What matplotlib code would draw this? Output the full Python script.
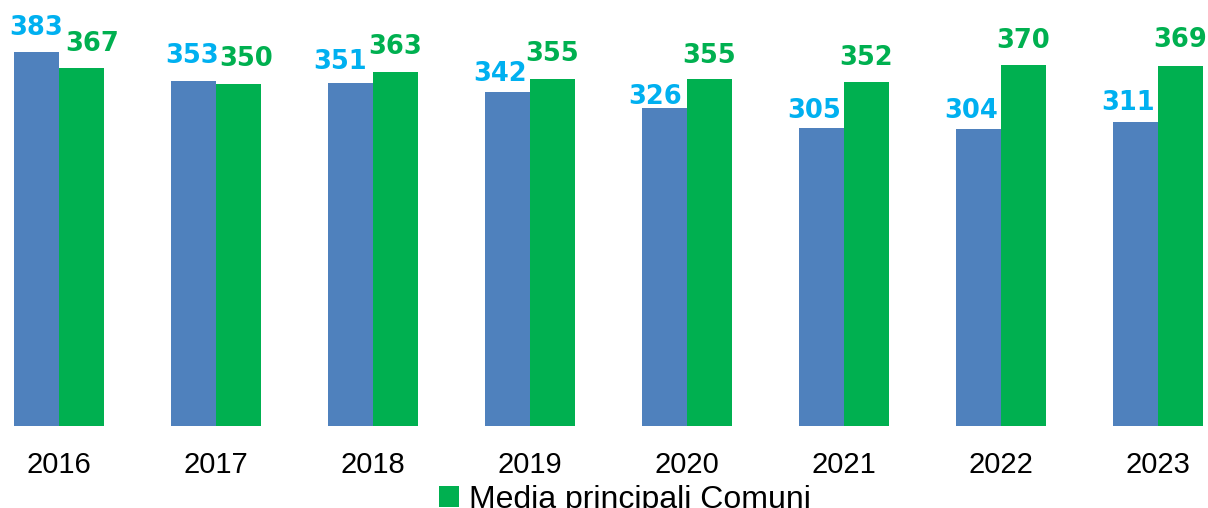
import numpy as np
import matplotlib.pyplot as plt

plt.rcParams['font.family'] = ['Liberation Sans', 'DejaVu Sans']

# Data
years = ['2016', '2017', '2018', '2019', '2020', '2021', '2022', '2023']
blue_vals = [383, 353, 351, 342, 326, 305, 304, 311]
green_vals = [367, 350, 363, 355, 355, 352, 370, 369]

# label nudges in pixels (dx, dy above bar top), as placed in the original
blue_nudge = [(0, 17), (-1, 18), (-10, 14), (-7, 11), (-9, 4), (-7, 10), (-7, 11), (-7, 12)]
green_nudge = [(11, 17), (8, 18), (0, 18), (0, 18), (0, 16), (0, 17), (0, 17), (0, 19)]

blue_color = '#4F81BD'
green_color = '#00B050'
blue_label_color = '#00B0F0'

fig = plt.figure(figsize=(12.08, 5.08), dpi=100)
# axes runs the full width; baseline at 426 px from the top
ax = fig.add_axes([0, 82 / 508, 1, 426 / 508])

x = np.arange(len(years))
w = 0.287
bars_b = ax.bar(x - w / 2, blue_vals, width=w, color=blue_color, label='_nolegend_')
bars_g = ax.bar(x + w / 2, green_vals, width=w, color=green_color,
                label='Media principali Comuni')

for bars, vals, nudge, col in [(bars_b, blue_vals, blue_nudge, blue_label_color),
                               (bars_g, green_vals, green_nudge, green_color)]:
    for rect, v, (dx, dy) in zip(bars, vals, nudge):
        ax.annotate(str(v), (rect.get_x() + rect.get_width() / 2, v),
                    xytext=(dx, dy), textcoords='offset pixels', ha='center',
                    va='baseline', fontsize=18.5, fontweight='bold',
                    family='DejaVu Sans', color=col, annotation_clip=False)

ax.set_xlim(-59 / 157, (1208 - 59) / 157)
ax.set_ylim(0, 426 / 0.9765)
ax.set_xticks(x)
ax.set_xticklabels(years, fontsize=21)
ax.tick_params(axis='x', length=0, pad=18)
ax.set_yticks([])
for s in ax.spines.values():
    s.set_visible(False)

fig.legend(handles=[bars_g], loc='center', bbox_to_anchor=(625 / 1208, 1 - 500 / 508),
           frameon=False, fontsize=23, handlelength=0.63, handleheight=0.63,
           handletextpad=0.3, borderpad=0)

fig.savefig('out.png', dpi=100)
